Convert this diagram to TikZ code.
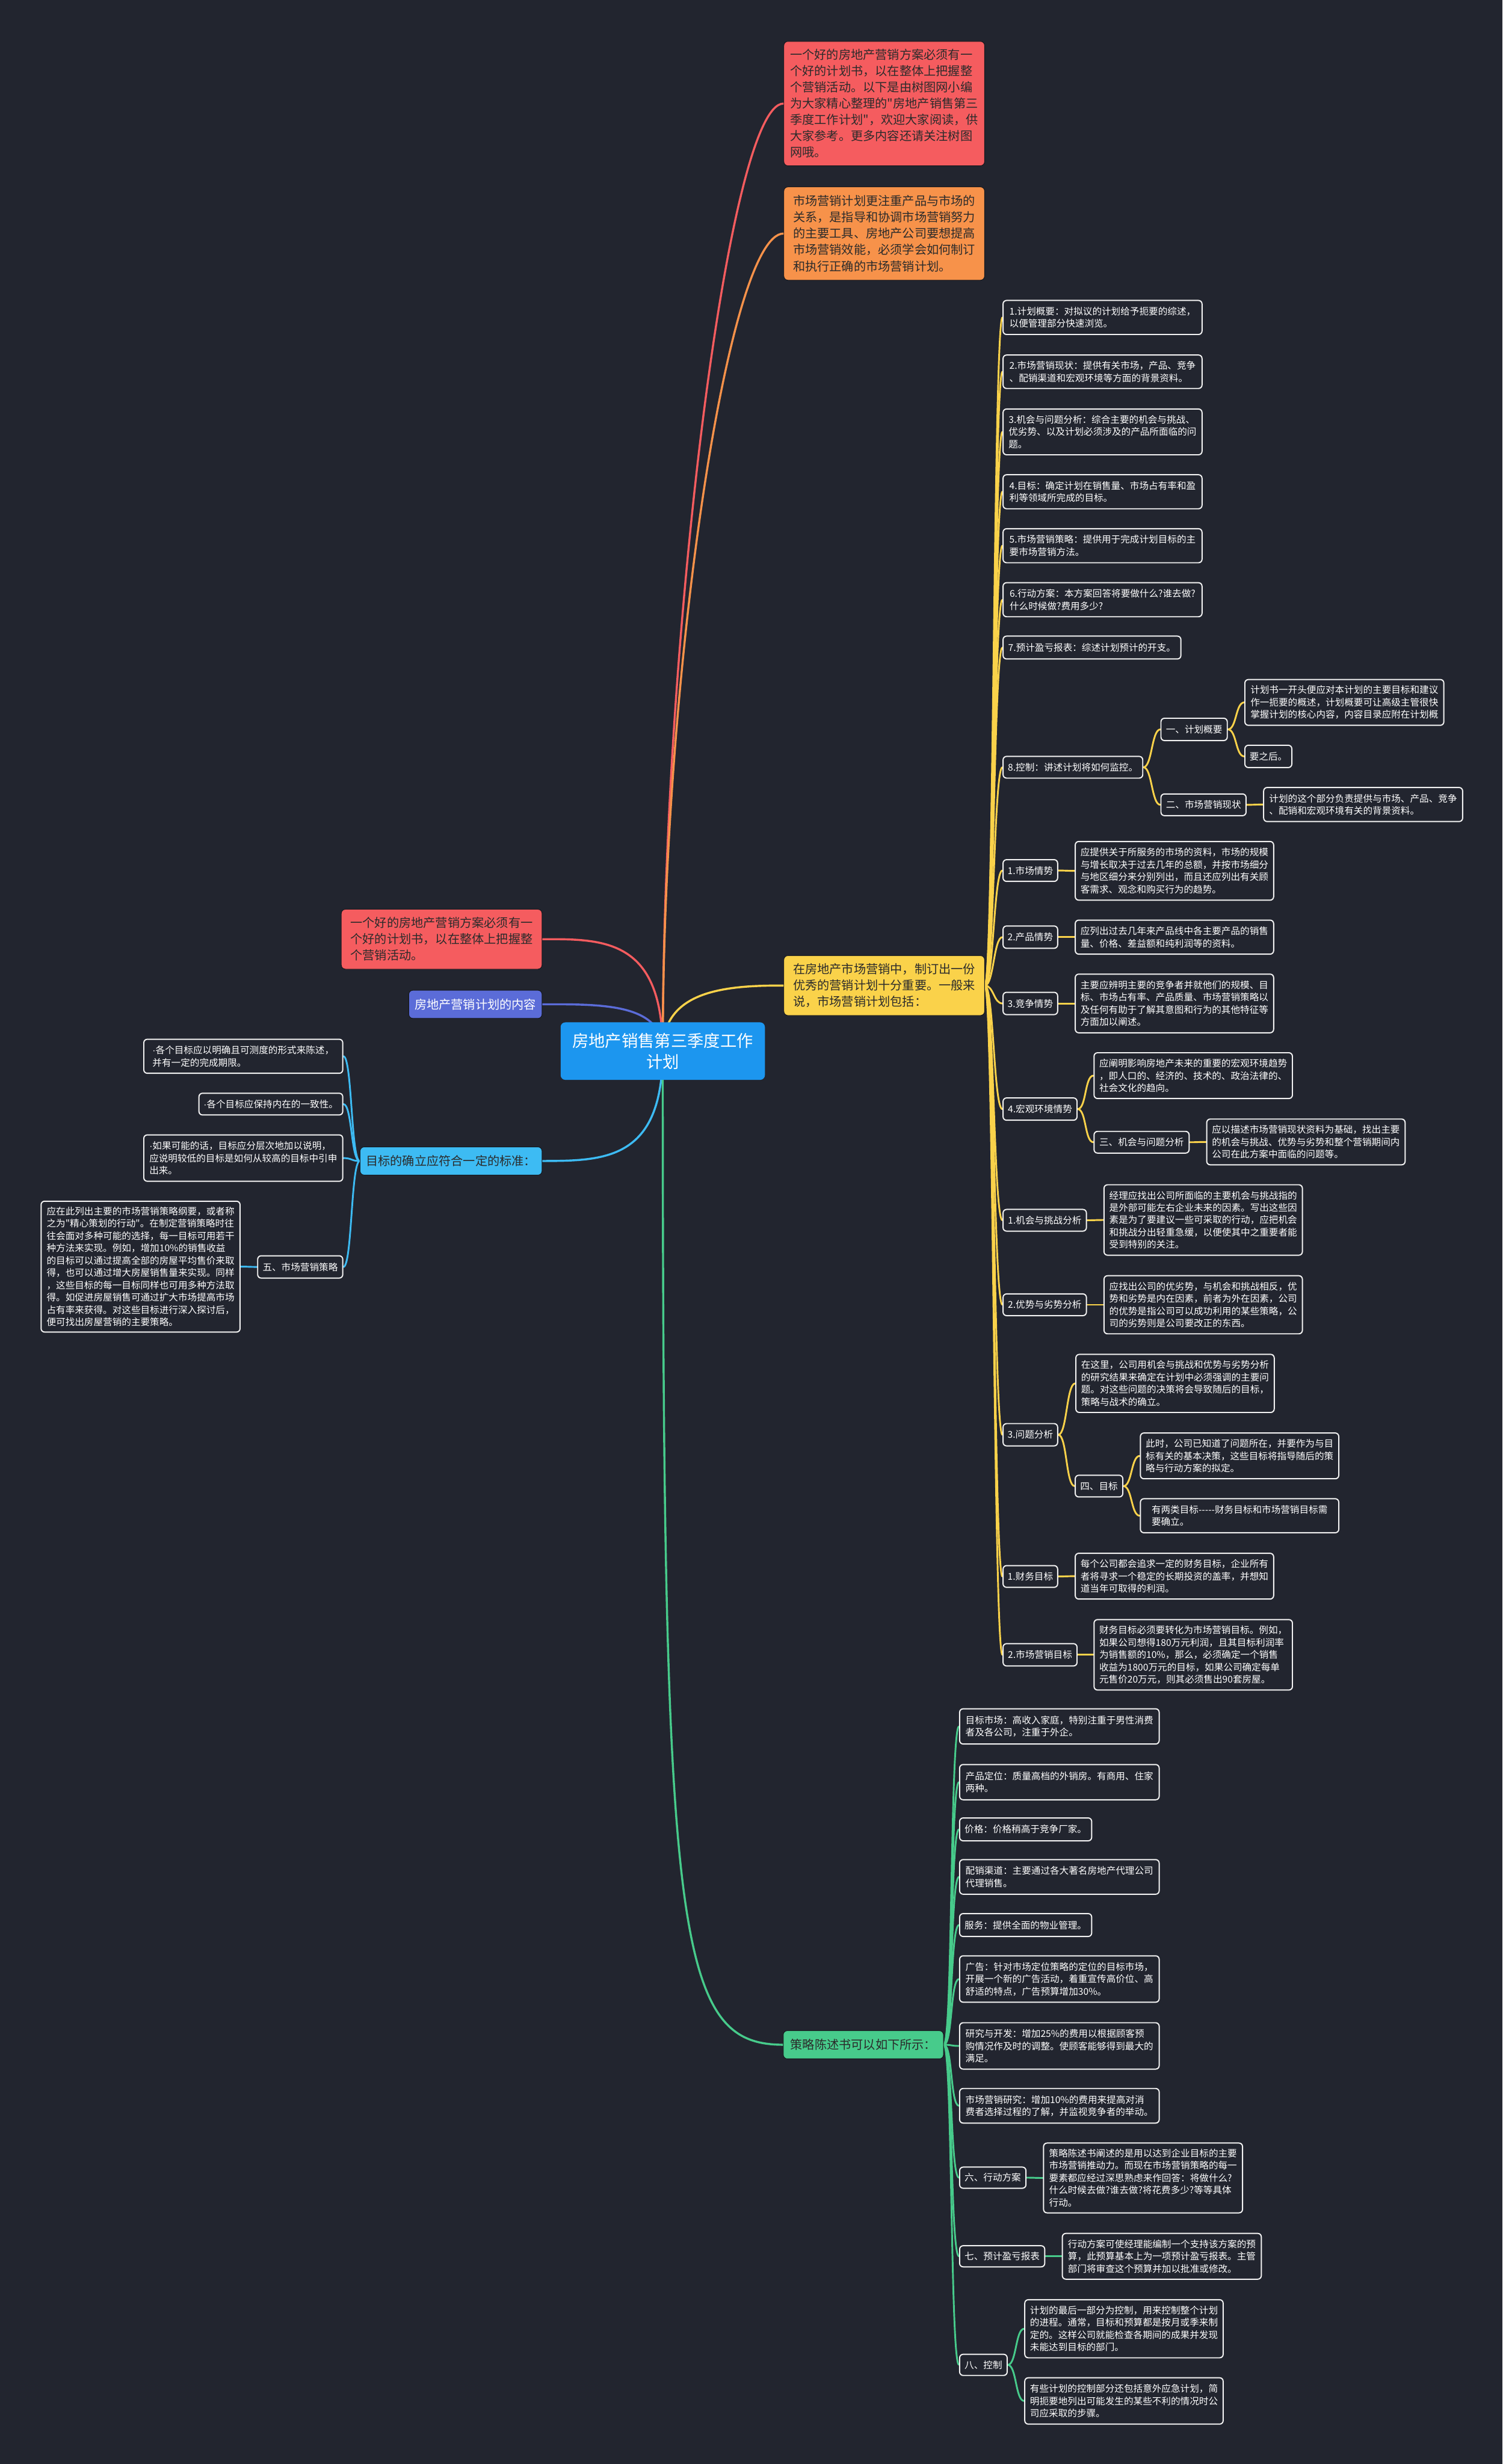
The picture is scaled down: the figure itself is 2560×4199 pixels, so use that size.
\documentclass[tikz,border=0pt]{standalone}
\usepackage{fontspec}
\newfontfamily\cjk{Noto Sans CJK SC}
\newfontfamily\latdot{Liberation Sans}
\newcommand\mdot{{\latdot\char"00B7}}
\definecolor{bg}{HTML}{22252F}
\definecolor{cred}{HTML}{F55C5F}
\definecolor{corange}{HTML}{F7924A}
\definecolor{cyellow}{HTML}{FAD24A}
\definecolor{cgreen}{HTML}{47CB8B}
\definecolor{cpurple}{HTML}{5B6CD8}
\definecolor{cltblue}{HTML}{3DBBF3}
\definecolor{croot}{HTML}{1C96EF}
\definecolor{cdark}{HTML}{2B2B2B}
\definecolor{leafline}{HTML}{F2F2F2}
\pgfdeclarelayer{bglayer}
\pgfdeclarelayer{edgelayer}
\pgfsetlayers{bglayer,edgelayer,main}
\tikzset{
  sz/.style 2 args={minimum width=#1pt, minimum height=#2pt},
  leaf/.style={draw=leafline, line width=2pt, fill=bg, rounded corners=6pt, text=white,
    align=left, font=\cjk\fontsize{16}{21}\selectfont, inner sep=0pt, anchor=north west},
  topic/.style={rounded corners=7pt, align=left, font=\cjk\fontsize{20.7}{27.7}\selectfont,
    inner sep=0pt, anchor=north west, text=cdark, draw=bg!60!black, line width=1pt},
  rootbox/.style={rounded corners=8pt, align=center, font=\cjk\fontsize{28}{36}\selectfont,
    inner sep=0pt, anchor=north west, text=white, fill=croot},
  lk/.style={line width=3pt, line cap=round},
  lkone/.style={line width=3.5pt, line cap=round},
}
\newcommand\mmR[3]{\draw[lk,#1] (#2.east) .. controls +(15,0) and +(-15,0) .. (#3.west);}
\newcommand\mmL[3]{\draw[lk,#1] (#2.west) .. controls +(-15,0) and +(15,0) .. (#3.east);}
\begin{document}
\begin{tikzpicture}[x=1pt,y=-1pt]
\begin{pgfonlayer}{bglayer}
\fill[bg] (0,0) rectangle (2560,4199);
\end{pgfonlayer}
\useasboundingbox (0,0) rectangle (2560,4199);

% root
\node[rootbox, sz={348}{98}] (root) at (955,1742) {房地产销售第三季度工作\\计划};

% level 1
\node[topic, fill=cred, sz={342}{212}] (A) at (1335,70) {一个好的房地产营销方案必须有一\\个好的计划书，以在整体上把握整\\个营销活动。以下是由树图网小编\\为大家精心整理的"房地产销售第三\\季度工作计划"，欢迎大家阅读，供\\大家参考。更多内容还请关注树图\\网哦。};
\node[topic, fill=corange, sz={342}{159}] (B) at (1335,318) {市场营销计划更注重产品与市场的\\关系，是指导和协调市场营销努力\\的主要工具、房地产公司要想提高\\市场营销效能，必须学会如何制订\\和执行正确的市场营销计划。};
\node[topic, fill=cyellow, sz={342}{102}] (C) at (1335,1628) {在房地产市场营销中，制订出一份\\优秀的营销计划十分重要。一般来\\说，市场营销计划包括：};
\node[topic, fill=cred, sz={342}{102}] (D) at (581,1549) {一个好的房地产营销方案必须有一\\个好的计划书，以在整体上把握整\\个营销活动。};
\node[topic, fill=cpurple, text=white, sz={227}{48}] (F) at (696,1687) {房地产营销计划的内容};
\node[topic, fill=cltblue, sz={310}{48}] (G) at (613,1954) {目标的确立应符合一定的标准：};
\node[topic, fill=cgreen, sz={273}{48}] (E) at (1334,3460) {策略陈述书可以如下所示：};

% left leaves
\node[leaf, sz={339}{58}] (L1) at (244,1770) {\mdot 各个目标应以明确且可测度的形式来陈述，\\并有一定的完成期限。};
\node[leaf, sz={245}{37}] (L2) at (338,1862) {\mdot 各个目标应保持内在的一致性。};
\node[leaf, sz={339}{79}] (L3) at (244,1933) {\mdot 如果可能的话，目标应分层次地加以说明，\\应说明较低的目标是如何从较高的目标中引申\\出来。};
\node[leaf, sz={145}{38}] (L4) at (438,2139) {五、市场营销策略};
\node[leaf, sz={339}{223}] (L4c) at (69,2046) {应在此列出主要的市场营销策略纲要，或者称\\之为"精心策划的行动"。在制定营销策略时往\\往会面对多种可能的选择，每一目标可用若干\\种方法来实现。例如，增加10\%的销售收益\\的目标可以通过提高全部的房屋平均售价来取\\得，也可以通过增大房屋销售量来实现。同样\\，这些目标的每一目标同样也可用多种方法取\\得。如促进房屋销售可通过扩大市场提高市场\\占有率来获得。对这些目标进行深入探讨后，\\便可找出房屋营销的主要策略。};

% yellow branch
\node[leaf, sz={339}{58}] (Y1) at (1708,511) {1.计划概要：对拟议的计划给予扼要的综述，\\以便管理部分快速浏览。};
\node[leaf, sz={339}{57}] (Y2) at (1708,604) {2.市场营销现状：提供有关市场，产品、竞争\\、配销渠道和宏观环境等方面的背景资料。};
\node[leaf, sz={339}{78}] (Y3) at (1708,696) {3.机会与问题分析：综合主要的机会与挑战、\\优劣势、以及计划必须涉及的产品所面临的问\\题。};
\node[leaf, sz={339}{58}] (Y4) at (1708,808) {4.目标：确定计划在销售量、市场占有率和盈\\利等领域所完成的目标。};
\node[leaf, sz={339}{58}] (Y5) at (1708,900) {5.市场营销策略：提供用于完成计划目标的主\\要市场营销方法。};
\node[leaf, sz={339}{58}] (Y6) at (1708,992) {6.行动方案：本方案回答将要做什么?谁去做?\\什么时候做?费用多少?};
\node[leaf, sz={303}{39}] (Y7) at (1708,1083) {7.预计盈亏报表：综述计划预计的开支。};
\node[leaf, sz={238}{37}] (Y8) at (1708,1288) {8.控制：讲述计划将如何监控。};
\node[leaf, sz={113}{38}] (Y8a) at (1977,1223) {一、计划概要};
\node[leaf, sz={339}{78}] (Y8a1) at (2120,1157) {计划书一开头便应对本计划的主要目标和建议\\作一扼要的概述，计划概要可让高级主管很快\\掌握计划的核心内容，内容目录应附在计划概};
\node[leaf, sz={80}{38}] (Y8a2) at (2120,1269) {要之后。};
\node[leaf, sz={145}{37}] (Y8b) at (1977,1352) {二、市场营销现状};
\node[leaf, sz={339}{58}] (Y8b1) at (2152,1341) {计划的这个部分负责提供与市场、产品、竞争\\、配销和宏观环境有关的背景资料。};
\node[leaf, sz={93}{37}] (Y9) at (1708,1464) {1.市场情势};
\node[leaf, sz={338}{100}] (Y9c) at (1831,1433) {应提供关于所服务的市场的资料，市场的规模\\与增长取决于过去几年的总额，并按市场细分\\与地区细分来分别列出，而且还应列出有关顾\\客需求、观念和购买行为的趋势。};
\node[leaf, sz={93}{38}] (Y10) at (1708,1577) {2.产品情势};
\node[leaf, sz={338}{58}] (Y10c) at (1831,1567) {应列出过去几年来产品线中各主要产品的销售\\量、价格、差益额和纯利润等的资料。};
\node[leaf, sz={93}{38}] (Y11) at (1708,1690) {3.竞争情势};
\node[leaf, sz={338}{100}] (Y11c) at (1831,1659) {主要应辨明主要的竞争者并就他们的规模、目\\标、市场占有率、产品质量、市场营销策略以\\及任何有助于了解其意图和行为的其他特征等\\方面加以阐述。};
\node[leaf, sz={126}{38}] (Y12) at (1708,1870) {4.宏观环境情势};
\node[leaf, sz={338}{78}] (Y12c) at (1863,1793) {应阐明影响房地产未来的重要的宏观环境趋势\\，即人口的、经济的、技术的、政治法律的、\\社会文化的趋向。};
\node[leaf, sz={162}{37}] (Y12b) at (1863,1927) {三、机会与问题分析};
\node[leaf, sz={338}{78}] (Y12bc) at (2055,1906) {应以描述市场营销现状资料为基础，找出主要\\的机会与挑战、优势与劣势和整个营销期间内\\公司在此方案中面临的问题等。};
\node[leaf, sz={142}{37}] (Y13) at (1708,2060) {1.机会与挑战分析};
\node[leaf, sz={338}{120}] (Y13c) at (1880,2018) {经理应找出公司所面临的主要机会与挑战指的\\是外部可能左右企业未来的因素。写出这些因\\素是为了要建议一些可采取的行动，应把机会\\和挑战分出轻重急缓，以便使其中之重要者能\\受到特别的关注。};
\node[leaf, sz={142}{37}] (Y14) at (1708,2204) {2.优势与劣势分析};
\node[leaf, sz={338}{99}] (Y14c) at (1880,2173) {应找出公司的优劣势，与机会和挑战相反，优\\势和劣势是内在因素，前者为外在因素，公司\\的优势是指公司可以成功利用的某些策略，公\\司的劣势则是公司要改正的东西。};
\node[leaf, sz={93}{38}] (Y15) at (1708,2425) {3.问题分析};
\node[leaf, sz={338}{99}] (Y15c) at (1832,2307) {在这里，公司用机会与挑战和优势与劣势分析\\的研究结果来确定在计划中必须强调的主要问\\题。对这些问题的决策将会导致随后的目标，\\策略与战术的确立。};
\node[leaf, sz={81}{37}] (Y15b) at (1831,2513) {四、目标};
\node[leaf, sz={338}{78}] (Y15b1) at (1942,2441) {此时，公司已知道了问题所在，并要作为与目\\标有关的基本决策，这些目标将指导随后的策\\略与行动方案的拟定。};
\node[leaf, sz={338}{58}] (Y15b2) at (1942,2553) {有两类目标{-}{-}{-}{-}{-}财务目标和市场营销目标需\\要确立。};
\node[leaf, sz={93}{37}] (Y16) at (1708,2667) {1.财务目标};
\node[leaf, sz={338}{78}] (Y16c) at (1831,2646) {每个公司都会追求一定的财务目标，企业所有\\者将寻求一个稳定的长期投资的盖率，并想知\\道当年可取得的利润。};
\node[leaf, sz={126}{38}] (Y17) at (1708,2800) {2.市场营销目标};
\node[leaf, sz={338}{120}] (Y17c) at (1863,2759) {财务目标必须要转化为市场营销目标。例如，\\如果公司想得180万元利润，且其目标利润率\\为销售额的10\%，那么，必须确定一个销售\\收益为1800万元的目标，如果公司确定每单\\元售价20万元，则其必须售出90套房屋。};

% green branch
\node[leaf, sz={340}{60}] (G1) at (1634,2911) {目标市场：高收入家庭，特别注重于男性消费\\者及各公司，注重于外企。};
\node[leaf, sz={340}{60}] (G2) at (1634,3006) {产品定位：质量高档的外销房。有商用、住家\\两种。};
\node[leaf, sz={225}{39}] (G3) at (1634,3097) {价格：价格稍高于竞争厂家。};
\node[leaf, sz={340}{59}] (G4) at (1634,3168) {配销渠道：主要通过各大著名房地产代理公司\\代理销售。};
\node[leaf, sz={225}{39}] (G5) at (1634,3260) {服务：提供全面的物业管理。};
\node[leaf, sz={340}{79}] (G6) at (1634,3332) {广告：针对市场定位策略的定位的目标市场，\\开展一个新的广告活动，着重宣传高价位、高\\舒适的特点，广告预算增加30\%。};
\node[leaf, sz={340}{79}] (G7) at (1634,3446) {研究与开发：增加25\%的费用以根据顾客预\\购情况作及时的调整。使顾客能够得到最大的\\满足。};
\node[leaf, sz={340}{59}] (G8) at (1634,3558) {市场营销研究：增加10\%的费用来提高对消\\费者选择过程的了解，并监视竞争者的举动。};
\node[leaf, sz={113}{36}] (G9) at (1634,3692) {六、行动方案};
\node[leaf, sz={339}{119}] (G9c) at (1777,3651) {策略陈述书阐述的是用以达到企业目标的主要\\市场营销推动力。而现在市场营销策略的每一\\要素都应经过深思熟虑来作回答：将做什么?\\什么时候去做?谁去做?将花费多少?等等具体\\行动。};
\node[leaf, sz={145}{36}] (G10) at (1634,3826) {七、预计盈亏报表};
\node[leaf, sz={339}{78}] (G10c) at (1809,3805) {行动方案可使经理能编制一个支持该方案的预\\算，此预算基本上为一项预计盈亏报表。主管\\部门将审查这个预算并加以批准或修改。};
\node[leaf, sz={81}{36}] (G11) at (1634,4011) {八、控制};
\node[leaf, sz={338}{99}] (G11a) at (1745,3918) {计划的最后一部分为控制，用来控制整个计划\\的进程。通常，目标和预算都是按月或季来制\\定的。这样公司就能检查各期间的成果并发现\\未能达到目标的部门。};
\node[leaf, sz={338}{79}] (G11b) at (1745,4051) {有些计划的控制部分还包括意外应急计划，简\\明扼要地列出可能发生的某些不利的情况时公\\司应采取的步骤。};

% connectors
\begin{pgfonlayer}{edgelayer}
\draw[lkone, cred] (root.center) .. controls (1129,1100) and (1240,176) .. (A.west);
\draw[lkone, corange] (root.center) .. controls (1129,1150) and (1240,398) .. (B.west);
\draw[lkone, cyellow] (root.center) .. controls (1129,1690) and (1230,1679) .. (C.west);
\draw[lkone, cred] (root.center) .. controls (1129,1600) and (1030,1600) .. (D.east);
\draw[lkone, cpurple] (root.center) .. controls (1129,1711) and (1030,1711) .. (F.east);
\draw[lkone, cltblue] (root.center) .. controls (1129,1978) and (1030,1978) .. (G.east);
\draw[lkone, cgreen] (root.center) .. controls (1129,3300) and (1150,3484) .. (E.west);

\mmL{cltblue}{G}{L1}
\mmL{cltblue}{G}{L2}
\mmL{cltblue}{G}{L3}
\mmL{cltblue}{G}{L4}
\mmL{cltblue}{L4}{L4c}

\foreach \n in {Y1,Y2,Y3,Y4,Y5,Y6,Y7,Y8,Y9,Y10,Y11,Y12,Y13,Y14,Y15,Y16,Y17}{\mmR{cyellow}{C}{\n}}
\mmR{cyellow}{Y8}{Y8a}
\mmR{cyellow}{Y8}{Y8b}
\mmR{cyellow}{Y8a}{Y8a1}
\mmR{cyellow}{Y8a}{Y8a2}
\mmR{cyellow}{Y8b}{Y8b1}
\mmR{cyellow}{Y9}{Y9c}
\mmR{cyellow}{Y10}{Y10c}
\mmR{cyellow}{Y11}{Y11c}
\mmR{cyellow}{Y12}{Y12c}
\mmR{cyellow}{Y12}{Y12b}
\mmR{cyellow}{Y12b}{Y12bc}
\mmR{cyellow}{Y13}{Y13c}
\mmR{cyellow}{Y14}{Y14c}
\mmR{cyellow}{Y15}{Y15c}
\mmR{cyellow}{Y15}{Y15b}
\mmR{cyellow}{Y15b}{Y15b1}
\mmR{cyellow}{Y15b}{Y15b2}
\mmR{cyellow}{Y16}{Y16c}
\mmR{cyellow}{Y17}{Y17c}

\foreach \n in {G1,G2,G3,G4,G5,G6,G7,G8,G9,G10,G11}{\mmR{cgreen}{E}{\n}}
\mmR{cgreen}{G9}{G9c}
\mmR{cgreen}{G10}{G10c}
\mmR{cgreen}{G11}{G11a}
\mmR{cgreen}{G11}{G11b}
\end{pgfonlayer}
\end{tikzpicture}
\end{document}
